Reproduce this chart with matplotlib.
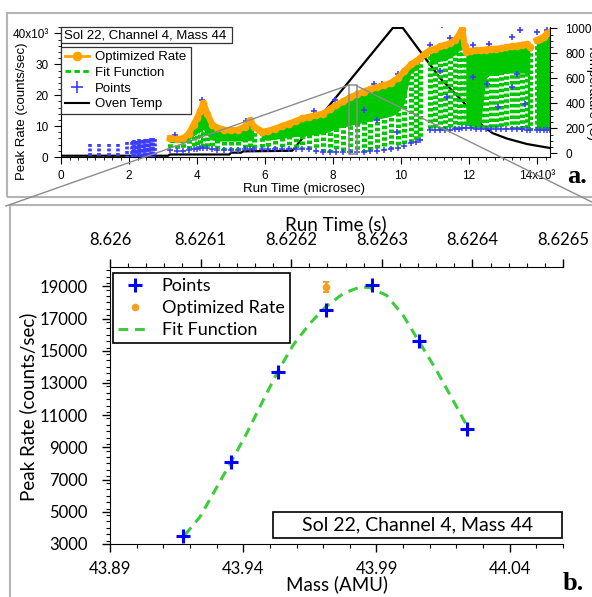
import numpy as np
import matplotlib
matplotlib.use("Agg")
import matplotlib.pyplot as plt
import matplotlib.transforms as mtransforms
from matplotlib.lines import Line2D
from matplotlib.patches import Rectangle
from matplotlib.ticker import MultipleLocator

plt.rcParams['font.family'] = ['Liberation Sans', 'DejaVu Sans']

# ---------------- panel a: run time (microsec) vs peak rate ----------------
# rates in thousands of counts/sec; nan marks a break in the record
run_t = [3200, 3400, 3600, 3750, 3900, 4000, 4100, 4190, 4300, 4450, 4600, 4800,
         5000, 5200, 5400, 5560, 5680, 5820,
         5900, 6100, 6300, 6500, 6700, 6900, 7100, 7300, 7500, 7700, 7900, 8100,
         8300, 8500, 8700, 8900, 9100, 9300, 9500, 9700, 9900, 10100, 10300,
         10450, 10560, 10700,
         10850, 11000, 11150, 11300, 11450, 11600, 11700, 11800, 11870,
         11920, 12050, 12200, 12350, 12500, 12650, 12800, 12950, 13100, 13250,
         13400, 13550, 13700, 13800, 13900,
         13990, 14100, 14200, 14300, 14380]
opt_rate = [6.0, 5.8, 6.0, 7.5, 10.5, 12.5, 15.0, 17.5, 14.0, 10.5, 9.5, 8.8,
            8.6, 8.8, 9.8, 11.9, 9.8, 8.8,
            8.1, 8.5, 9.2, 10.0, 10.8, 11.6, 12.5, 13.0, 13.5, 14.0, 15.5, 16.8,
            18.0, 19.3, 20.3, 21.2, 22.0, 22.6, 23.2, 24.0, 25.5, 27.8, 30.0,
            31.0, 32.0, 33.5,
            34.5, 35.0, 35.8, 36.3, 36.8, 38.0, 39.5, 41.5, 36.0,
            34.0, 34.2, 34.5, 34.5, 34.8, 35.0, 35.0, 35.2, 35.5, 35.8,
            36.0, 36.3, 36.5, 35.5, np.nan,
            37.8, 38.3, 39.0, 40.0, 40.5]
fit_top_band = [4.5, 4.5, 4.5, 5.0, 6.5, 7.5, 8.5, 9.0, 7.0, 5.5, 5.0, 5.0,
                5.0, 5.0, 5.0, 5.5, 5.0, np.nan,
                5.5, 5.5, 5.5, 6.0, 6.0, 6.5, 6.5, 7.0, 7.0, 7.5, 8.0, 9.0,
                9.5, 10.0, 10.5, 11.0, 11.5, 12.0, 12.5, 13.0, 14.0, 17.0, 27.0,
                28.0, 29.0, np.nan,
                30.0, 30.0, 31.0, 31.0, 32.0, 33.0, 34.0, 35.0, np.nan,
                10.0, 10.0, 10.0, 10.0, 25.0, 27.0, 27.0, 27.0, 27.0, 27.0,
                27.0, 27.0, 27.0, 27.0, np.nan,
                9.0, 9.0, 9.0, 9.0, 9.0]
fit_low = [2.2, 2.0, 2.0, 2.2, 2.5, 2.5, 3.0, 3.0, 2.8, 2.5, 2.3, 2.3,
           2.3, 2.3, 2.5, 2.5, 2.5, np.nan,
           2.5, 2.5, 2.5, 2.5, 2.5, 2.5, 2.5, 2.5, 2.0, 1.5, 1.5, 1.5,
           1.5, 1.5, 1.5, 1.5, 1.8, 2.0, 2.3, 2.7, 3.0, 3.5, 4.5,
           5.0, 5.5, np.nan,
           8.6, 8.6, 8.6, 8.6, 8.8, 9.0, 9.2, 9.5, np.nan,
           9.5, 9.5, 9.0, 9.0, 9.0, 9.0, 9.0, 9.0, 9.0, 9.0,
           9.0, 9.0, 8.6, 8.6, np.nan,
           8.6, 8.6, 8.6, 8.6, 8.6]

# scattered single points
extra_t = [3350, 4150, 5450, 7450, 8060, 9190, 9430, 9920, 10850, 11200, 11440,
           11780, 12130, 12600, 13250, 13500, 13990, 14280,
           8900, 9290, 9870, 11150, 11340, 12130, 12520, 12860, 13260, 13400,
           13650, 13550]
extra_rate = [7.2, 18.5, 11.8, 14.8, 18.4, 23.8, 23.8, 27.0, 36.2, 42.7, 38.4,
              42.7, 36.2, 36.5, 38.9, 41.0, 40.5, 41.0,
              15.1, 11.9, 8.1, 28.0, 19.4, 26.0, 23.8, 16.2, 22.7, 27.0,
              17.3, 9.2]

# early point columns (before the fits start)
col_t = [850, 1120, 1410, 1680, 1940, 2080, 2120, 2160, 2200, 2240, 2280, 2320,
         2360, 2400, 2440, 2480, 2520, 2560, 2600, 2640, 2680, 2720, 2760]
col_top = [4.3, 4.3, 4.3, 4.3, 4.8, 5.0, 5.2, 5.5, 5.0, 5.3, 5.8, 5.2,
           5.5, 5.6, 5.3, 5.8, 5.5, 5.9, 5.6, 6.0, 5.7, 6.1, 5.8]

# oven temperature (C)
temp_t = [60, 3150, 3200, 4950, 5000, 5300, 5350, 6800, 9760, 10050, 11150,
          11830, 12420, 12700, 13110, 13700, 14380]
temp_c = [-20, -20, -10, -10, 5, 5, 15, 20, 1003, 1003, 600, 410, 213, 160,
          118, 74, 42]

# ---------------- panel b: mass scan ----------------
pt_mass = [43.9175, 43.9354, 43.9529, 43.9709, 43.9882, 44.0059, 44.0238]
pt_rate = [3500, 8080, 13690, 17550, 19100, 15590, 10110]
opt_mass = [43.9709]
opt_val = [18960]
opt_err = [330]
fit_mass = [43.9181, 43.9238, 43.9354, 43.9413, 43.9475, 43.9529, 43.9587,
            43.9650, 43.9709, 43.9775, 43.9838, 43.9875, 43.9938, 44.0000,
            44.0059, 44.0125, 44.0187, 44.0238]
fit_rate = [3560, 4690, 8090, 9870, 11930, 13690, 15340, 16690, 17720, 18550,
            18960, 18920, 18440, 17200, 15590, 13790, 11930, 10380]

W, H = 592, 597
def fx(px):
    return px / W
def fy(py):
    return 1 - py / H

orange = '#ffa500'
green_a = '#00c800'
blue_a = '#3c3cff'
black = 'black'

fig = plt.figure(figsize=(W / 100, H / 100), dpi=100)

# panel frames
fig.add_artist(Rectangle((fx(7), fy(197)), fx(620) - fx(7), fy(13) - fy(197),
                         transform=fig.transFigure, fill=False,
                         edgecolor='#b4b4b4', lw=1.5))
fig.add_artist(Rectangle((fx(10), fy(640)), fx(620) - fx(10), fy(205) - fy(640),
                         transform=fig.transFigure, fill=False,
                         edgecolor='#b4b4b4', lw=1.5))

# ---------- top axes ----------
ax = fig.add_axes([fx(61), fy(157), (550 - 61) / W, (157 - 27) / H])
ax2 = ax.twinx()

t = np.array(run_t, dtype=float)
opt = np.array(opt_rate) * 1000
band = np.array(fit_top_band) * 1000
low = np.array(fit_low) * 1000
ok = ~np.isnan(low)

trans = mtransforms.blended_transform_factory(ax.transData, ax2.transData)
ax.plot(temp_t, temp_c, color=black, lw=1.6, transform=trans, zorder=1)

# dashed fit traces hang down from the optimized rate
ax.vlines(t[ok], opt[ok], low[ok], colors=green_a, lw=3.6,
          linestyles=(0, (0.7, 0.45)), zorder=2)
ax.fill_between(t, band, opt, color=green_a, lw=0, zorder=2.1)

ax.vlines(col_t, np.array(col_top) * 1000, 0, colors=blue_a, lw=2.6,
          linestyles=(0, (0.8, 0.45)), zorder=3)
ax.plot(t[ok], low[ok], '+', color=blue_a, ms=5, mew=1.1, zorder=3)
ax.plot(extra_t, np.array(extra_rate) * 1000, '+', color=blue_a, ms=5,
        mew=1.2, zorder=3)
ax.plot(t, opt, '-o', color=orange, lw=4.5, ms=4.5, zorder=4)

ax.add_patch(Rectangle((8480, 1100), 220, 22100, fill=False,
                       edgecolor='#8c8c8c', lw=1.1, zorder=6))

ax.set_xlim(0, 14380)
ax.set_ylim(0, 42100)
ax2.set_ylim(-30, 1010)

ax.set_xticks([0, 2000, 4000, 6000, 8000, 10000, 12000, 14000],
              ['0', '2', '4', '6', '8', '10', '12', '14x10\u00b3'])
ax.set_yticks([0, 10000, 20000, 30000, 40000],
              ['0', '10', '20', '30', '40x10\u00b3'])
ax.xaxis.set_minor_locator(MultipleLocator(250))
ax.yaxis.set_minor_locator(MultipleLocator(2000))
ax2.set_yticks([0, 200, 400, 600, 800, 1000])
ax2.yaxis.set_minor_locator(MultipleLocator(50))

for a in (ax, ax2):
    a.spines['top'].set_visible(False)
    a.patch.set_visible(False)
ax.spines['right'].set_visible(False)
ax2.spines['left'].set_visible(False)
ax2.spines['bottom'].set_visible(False)
ax.tick_params(which='major', direction='out', length=5, width=0.8,
               labelsize=8.5, pad=4)
ax.tick_params(which='minor', direction='out', length=2.5, width=0.6)
ax.tick_params(axis='x', which='major', pad=4)
ax2.tick_params(which='major', direction='out', length=5, width=0.8,
                labelsize=8.5, pad=6)
ax2.tick_params(which='minor', direction='out', length=2.5, width=0.6)

fig.text(fx(304), fy(189), 'Run Time (microsec)', ha='center', va='center',
         fontsize=9.5)
fig.text(fx(22), fy(111), 'Peak Rate (counts/sec)', ha='center',
         va='center', rotation=90, fontsize=9.5)
fig.text(fx(592), fy(92), 'Temperature (C)', ha='center', va='center',
         rotation=270, fontsize=9.5)

fig.add_artist(Rectangle((fx(61), fy(43)), fx(232) - fx(61), fy(27) - fy(43),
                         transform=fig.transFigure, facecolor='white',
                         edgecolor='#333333', lw=0.9, zorder=5))
fig.text(fx(64), fy(35.5), 'Sol 22, Channel 4, Mass 44', ha='left',
         va='center', fontsize=9.5, zorder=6)

handles_a = [
    Line2D([], [], color=orange, marker='o', lw=2, ms=6),
    Line2D([], [], color=green_a, lw=2, ls=(0, (2, 1.2))),
    Line2D([], [], color=blue_a, marker='+', lw=0, ms=8, mew=1.2),
    Line2D([], [], color=black, lw=1.5),
]
leg = ax.legend(handles_a, ['Optimized Rate', 'Fit Function', 'Points',
                            'Oven Temp'],
                loc='upper left', bbox_to_anchor=(fx(61), fy(47)),
                bbox_transform=fig.transFigure, borderaxespad=0,
                fontsize=9.5, frameon=True, fancybox=False, framealpha=1,
                edgecolor='#333333', handlelength=1.8, handletextpad=0.5,
                labelspacing=0.26, borderpad=0.3)
leg.get_frame().set_linewidth(0.9)
leg.set_zorder(10)

fig.text(fx(567), fy(183), 'a.', fontsize=19, fontweight='bold',
         family='Liberation Serif', ha='left', va='baseline')

# connectors from the zoom box to panel b
fig.add_artist(Line2D([fx(6), fx(349)], [fy(206), fy(85)],
                      transform=fig.transFigure, color='#8c8c8c', lw=1))
fig.add_artist(Line2D([fx(357), fx(610)], [fy(86), fy(211)],
                      transform=fig.transFigure, color='#8c8c8c', lw=1))

# ---------- bottom axes ----------
bfont = 'Lato'
bx = fig.add_axes([fx(110), fy(544), (563 - 110) / W, (544 - 267) / H])
bx.plot(fit_mass, fit_rate, color='#3ccc3c', lw=2.2, ls=(0, (3.2, 2.2)),
        zorder=2)
bx.errorbar(opt_mass, opt_val, yerr=opt_err, fmt='o', color='#f5a020',
            ms=4.5, elinewidth=1.8, capsize=2.2, capthick=1.5, zorder=3)
bx.plot(pt_mass, pt_rate, '+', color='#0000ff', ms=10, mew=2.2, zorder=4)

bx.set_xlim(43.89, 44.06)
bx.set_ylim(3000, 20200)
bx.set_xticks([43.89, 43.94, 43.99, 44.04],
              ['43.89', '43.94', '43.99', '44.04'], fontfamily=bfont,
              fontsize=12)
bx.set_yticks(range(3000, 20000, 2000),
              [str(v) for v in range(3000, 20000, 2000)], fontfamily=bfont,
              fontsize=12)
bx.xaxis.set_minor_locator(MultipleLocator(0.01))
bx.yaxis.set_minor_locator(MultipleLocator(400))
bx.spines['top'].set_visible(False)
bx.spines['right'].set_visible(False)
bx.tick_params(which='major', direction='out', length=6, width=1, pad=6)
bx.tick_params(which='minor', direction='out', length=3, width=0.8)
bx.tick_params(axis='y', which='major', pad=10)

tx = bx.twiny()
tx.set_xlim(8.626, 8.6265)
tx.set_xticks([8.626, 8.6261, 8.6262, 8.6263, 8.6264, 8.6265],
              ['8.626', '8.6261', '8.6262', '8.6263', '8.6264', '8.6265'],
              fontfamily=bfont, fontsize=12)
tx.xaxis.set_minor_locator(MultipleLocator(0.00002))
for s in ('left', 'right', 'bottom'):
    tx.spines[s].set_visible(False)
tx.tick_params(which='major', direction='out', length=6, width=1, pad=8)
tx.tick_params(which='minor', direction='out', length=3, width=0.8)

fig.text(fx(336), fy(224), 'Run Time (s)', ha='center', va='center',
         fontsize=13.5, family=bfont)
fig.text(fx(337), fy(584), 'Mass (AMU)', ha='center', va='center',
         fontsize=13.5, family=bfont)
fig.text(fx(28), fy(407), 'Peak Rate (counts/sec)', ha='center',
         va='center', rotation=90, fontsize=13.5, family=bfont)

handles_b = [
    Line2D([], [], color='#0000ff', marker='+', lw=0, ms=10, mew=2.2),
    Line2D([], [], color='#f5a020', marker='o', lw=0, ms=4.5),
    Line2D([], [], color='#3ccc3c', lw=2.2, ls=(0, (3.2, 2.2))),
]
legb = bx.legend(handles_b, ['Points', 'Optimized Rate', 'Fit Function'],
                 loc='upper left', bbox_to_anchor=(fx(113), fy(273)),
                 bbox_transform=fig.transFigure, borderaxespad=0,
                 prop={'family': bfont, 'size': 13}, frameon=True,
                 fancybox=False, framealpha=1, edgecolor='black',
                 handlelength=1.8, handletextpad=0.6, labelspacing=0.32,
                 borderpad=0.3)
legb.get_frame().set_linewidth(1.2)

fig.add_artist(Rectangle((fx(273), fy(538)), fx(562) - fx(273),
                         fy(512) - fy(538), transform=fig.transFigure,
                         facecolor='white', edgecolor='black', lw=1.2))
fig.text(fx(417.5), fy(525), 'Sol 22, Channel 4, Mass 44', ha='center',
         va='center', fontsize=14, family=bfont)

fig.text(fx(563), fy(590), 'b.', fontsize=19, fontweight='bold',
         family='Liberation Serif', ha='left', va='baseline')

fig.savefig('out.png', dpi=100)
